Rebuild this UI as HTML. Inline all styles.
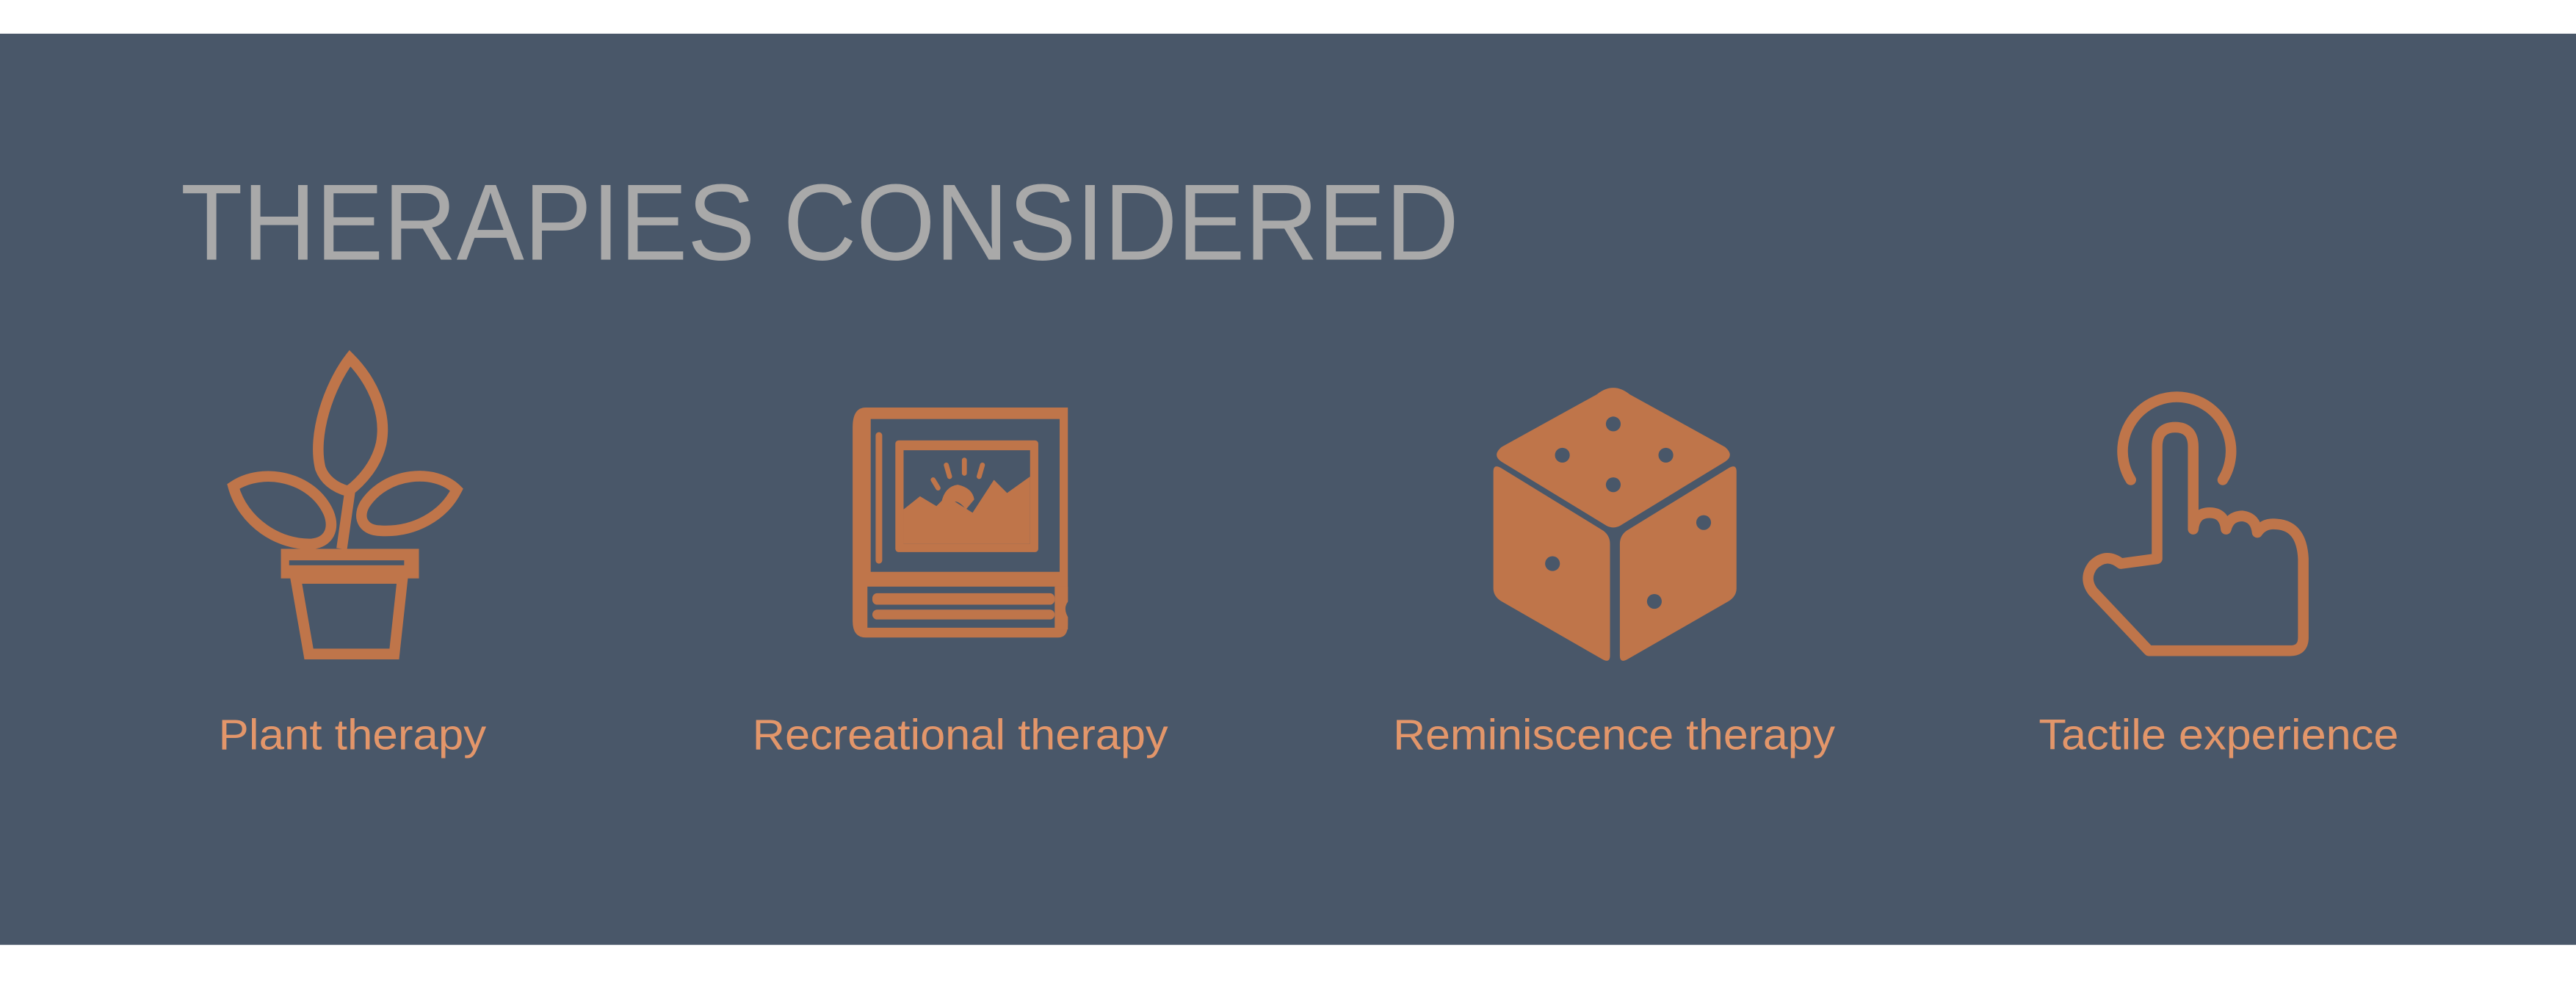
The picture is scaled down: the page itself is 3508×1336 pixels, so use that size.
<!DOCTYPE html>
<html><head><meta charset="utf-8"><style>
html,body{margin:0;padding:0;background:#fff;}
svg{display:block;}
</style></head><body>
<svg width="3508" height="1336" viewBox="0 0 1568 597" preserveAspectRatio="none" xmlns="http://www.w3.org/2000/svg">
<rect x="0" y="0" width="1568" height="597" fill="#ffffff"/>
<rect x="0" y="20.5" width="1568" height="554.5" fill="#495769"/>
<text x="110" y="158" font-family="Liberation Sans, sans-serif" font-size="66" fill="#a9a9a9" textLength="778" lengthAdjust="spacingAndGlyphs">THERAPIES CONSIDERED</text>

<g fill="none" stroke="#bf754a" stroke-width="6.5">
  <path d="M213,218 C200,235 190,265 195,285 C198,293 205,297 212,299 C220,293 229,283 232,270 C236,250 225,230 213,218 Z"/>
  <path d="M142,296 C160,284 190,290 200,312 C204,322 200,330 190,331 C170,332 148,318 142,296 Z"/>
  <path d="M278,298 C265,285 235,287 222,307 C217,316 222,323 232,323 C252,324 270,314 278,298 Z"/>
  <path d="M213,299 L208,334" />
  <path d="M180,352 L245,352 L240,398 L188,398 Z"/>
</g>
<g fill="#bf754a">
  <rect x="171" y="334" width="84" height="18"/>
  <rect x="176" y="341" width="70" height="3" fill="#495769"/>
</g>

<g>
  <path d="M527,248 L650,248 L650,380 Q650,388 644,388 L527,388 Q519,388 519,378 L519,260 Q519,248 527,248 Z" fill="#bf754a"/>
  <rect x="530" y="255" width="115" height="93" fill="#495769"/>
  <rect x="533" y="263" width="4" height="80" rx="2" fill="#bf754a"/>
  <rect x="545" y="268" width="87" height="68" rx="2" fill="#bf754a"/>
  <rect x="550" y="274" width="77" height="57" fill="#495769"/>
  <path d="M550,310 L560,302 L570,308 L576,302 L592,312 L605,292 L613,300 L627,290 L627,331 L550,331 Z" fill="#bf754a"/>
  <path d="M573,306 Q575,296 583,295 Q592,297 593,304 L588,310 Q580,300 577,311 Z" fill="#bf754a"/>
  <g stroke="#bf754a" stroke-width="3" stroke-linecap="round">
    <line x1="587" y1="280" x2="587" y2="288"/>
    <line x1="576" y1="283" x2="578" y2="290"/>
    <line x1="598" y1="283" x2="596" y2="290"/>
    <line x1="568" y1="292" x2="571" y2="297"/>
  </g>
  <rect x="528" y="357" width="115" height="25" fill="#495769"/>
  <rect x="531" y="361" width="111" height="7" rx="3" fill="#bf754a"/>
  <rect x="531" y="371" width="111" height="6" rx="3" fill="#bf754a"/>
  <rect x="642" y="357" width="8" height="26" fill="#bf754a"/>
  <path d="M651,365 Q646,370 651,377 Z" fill="#495769"/>
</g>

<g fill="#bf754a">
  <path d="M982,236 Q987,236 992,240 L1050,272 Q1056,277 1050,281 L986,320 Q982,322 978,320 L914,281 Q908,277 914,272 L972,240 Q977,236 982,236 Z"/>
  <path d="M909,287 Q909,282 914,285 L976,323 Q980,326 980,331 L980,399 Q980,404 975,401 L914,366 Q909,363 909,358 Z"/>
  <path d="M1057,287 Q1057,282 1052,285 L990,323 Q986,326 986,331 L986,399 Q986,404 991,401 L1052,366 Q1057,363 1057,358 Z"/>
  <g fill="#495769">
    <circle cx="982" cy="258" r="4.5"/><circle cx="951" cy="277" r="4.5"/><circle cx="1014" cy="277" r="4.5"/><circle cx="982" cy="295" r="4.5"/>
    <circle cx="945" cy="343" r="4.5"/><circle cx="1037" cy="318" r="4.5"/><circle cx="1007" cy="366" r="4.5"/>
  </g>
</g>

<g fill="none" stroke="#bf754a" stroke-width="6.5" stroke-linejoin="round" stroke-linecap="round">
  <path d="M1297,292 A33,33 0 1,1 1353,292"/>
  <path d="M1313,340 L1313,272 Q1313,260 1324,260 Q1335,260 1335,272 L1335,322 Q1336,312 1345,312 Q1354,312 1355,322 Q1357,314 1365,314 Q1373,315 1374,324 Q1378,318 1386,319 Q1401,320 1402,340 L1402,388 Q1402,396 1394,396 L1308,396 L1274,360 Q1268,352 1274,344 Q1282,336 1291,343 Z"/>
</g>

<g font-family="Liberation Sans, sans-serif" font-size="26" fill="#e3966a">
  <text x="133" y="456" textLength="163" lengthAdjust="spacingAndGlyphs">Plant therapy</text>
  <text x="458" y="456" textLength="253" lengthAdjust="spacingAndGlyphs">Recreational therapy</text>
  <text x="848" y="456" textLength="269" lengthAdjust="spacingAndGlyphs">Reminiscence therapy</text>
  <text x="1241" y="456" textLength="219" lengthAdjust="spacingAndGlyphs">Tactile experience</text>
</g>
</svg>
</body></html>
